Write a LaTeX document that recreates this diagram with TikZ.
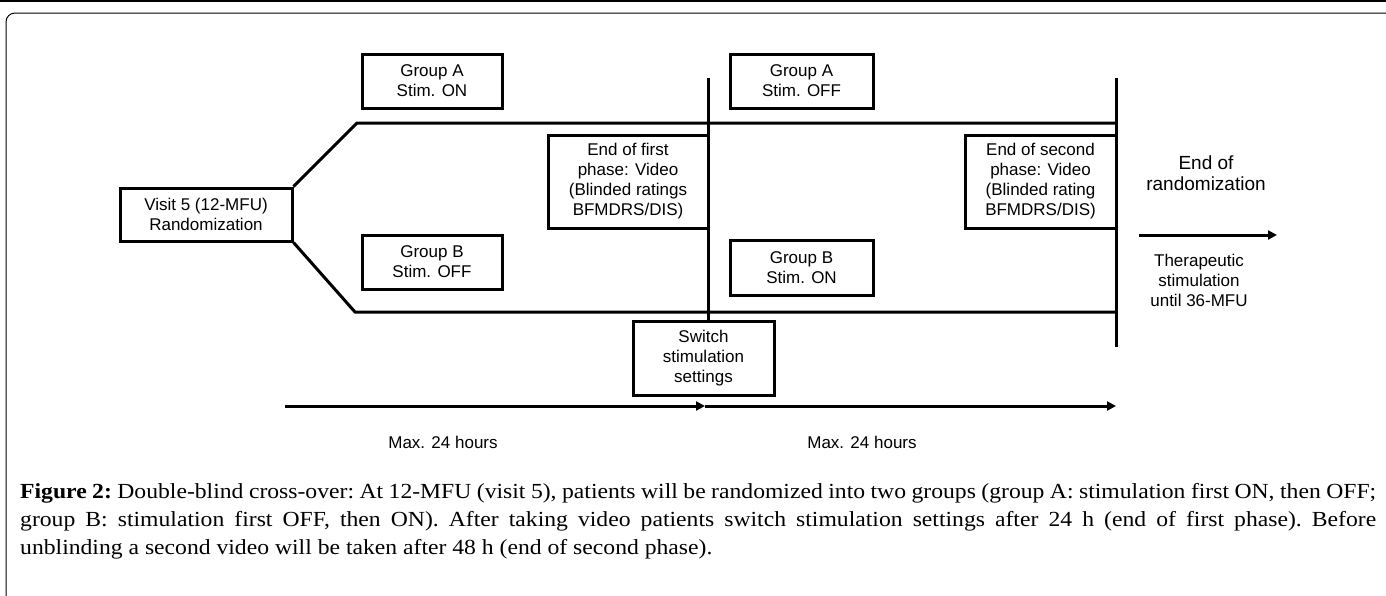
\documentclass[tikz,border=0pt]{standalone}
\usepackage{fontspec}
\usetikzlibrary{arrows.meta}
\newfontfamily\dfont{Liberation Sans}
\newfontfamily\capfont[FakeStretch=1.1]{Liberation Serif}
\tikzset{
  stagebox/.style={draw, line width=3pt, align=center, inner sep=0pt,
    font=\dfont\fontsize{17}{20}\selectfont},
  mainline/.style={line width=3pt},
  timearrow/.style={line width=3pt, -{Triangle[length=9pt,width=9pt]}},
  lbl/.style={align=center, font=\dfont\fontsize{17}{20}\selectfont},
  capline/.style={anchor=base west, inner sep=0pt, font=\capfont\fontsize{21.5}{28}\selectfont\frenchspacing}
}
\begin{document}
\begin{tikzpicture}[x=1pt,y=-1pt]
\useasboundingbox (0,0) rectangle (1386,595);
% outer frame
\draw[line width=1.5pt] (0,1) -- (1386,1);
\draw[line width=1pt, rounded corners=9pt] (6,600) -- (6,13) -- (1400,13);

% boxes
\node[stagebox, minimum width=172pt, minimum height=53pt] (visit) at (206,214.5) {Visit 5 (12-MFU)\\Randomization};
\node[stagebox, minimum width=140pt, minimum height=54pt] (gAon) at (432,81) {Group A\\Stim. ON};
\node[stagebox, minimum width=140pt, minimum height=54pt] (gBoff) at (432,262) {Group B\\Stim. OFF};
\node[stagebox, minimum width=160pt, minimum height=93pt] (end1) at (628,181.5) {End of first\\phase: Video\\(Blinded ratings\\BFMDRS/DIS)};
\node[stagebox, minimum width=143pt, minimum height=54pt] (gAoff) at (801.5,81) {Group A\\Stim. OFF};
\node[stagebox, minimum width=143pt, minimum height=55pt] (gBon) at (801.5,267.5) {Group B\\Stim. ON};
\node[stagebox, minimum width=151pt, minimum height=93pt] (end2) at (1040.5,181.5) {End of second\\phase: Video\\(Blinded rating\\BFMDRS/DIS)};
\node[stagebox, minimum width=141pt, minimum height=74pt] (switch) at (703.5,358) {Switch\\stimulation\\settings};

% coordinates
\coordinate (upbend) at (357,123);
\coordinate (lobend) at (355,312);
\coordinate (v1top) at (708,78);
\coordinate (v2top) at (1116,78);
\coordinate (v2bot) at (1116,347);
\coordinate (t0) at (285,406);
\coordinate (t1) at (705,406);
\coordinate (t2) at (1116,406);
\coordinate (r0) at (1139,235);
\coordinate (r1) at (1277,235);

% branches
\draw[mainline, line join=miter] (visit.north east) -- (upbend) -- (upbend -| v2top);
\draw[mainline, line join=miter] (visit.south east) -- (lobend) -- (lobend -| v2top);
% vertical phase lines
\draw[mainline] (v1top) -- (v1top |- switch.north);
\draw[mainline] (v2top) -- (v2bot);

% time arrows
\draw[timearrow] (t0) -- (t1);
\draw[timearrow] (t1) -- (t2);
\draw[timearrow] (r0) -- (r1);

% labels
\node[lbl, font=\dfont\fontsize{19}{21}\selectfont] (endrand) at (1206,173) {End of\\randomization};
\node[lbl] (thera) at (1199,280) {Therapeutic\\stimulation\\until 36-MFU};
\node[lbl] (max1) at (443,442) {Max. 24 hours};
\node[lbl] (max2) at (862,442) {Max. 24 hours};

% caption
\node[capline] (cap1) at (20,498) {\makebox[1356pt][s]{\textbf{Figure 2:} Double-blind cross-over: At 12-MFU (visit 5), patients will be randomized into two groups (group A: stimulation first ON, then OFF;}};
\node[capline] (cap2) at (20,526) {\makebox[1356pt][s]{group B: stimulation first OFF, then ON). After taking video patients switch stimulation settings after 24 h (end of first phase). Before}};
\node[capline] (cap3) at (20,554) {unblinding a second video will be taken after 48 h (end of second phase).};
\end{tikzpicture}
\end{document}
